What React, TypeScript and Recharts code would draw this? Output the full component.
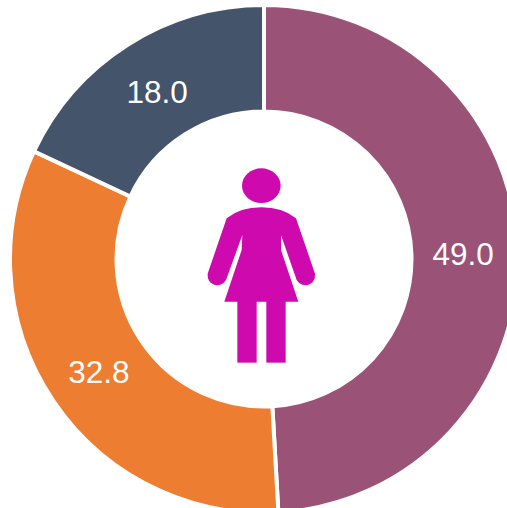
import { PieChart, Pie, Cell } from 'recharts';

const categories = ['A', 'B', 'C'];
const values = [49.0, 32.8, 18.0];
const colors = ['#9B5277', '#ED7D31', '#44546A'];

const data = categories.map((name, i) => ({ name, value: values[i] }));

const RAD = Math.PI / 180;

function renderLabel(props: any) {
  const { cx, cy, midAngle, innerRadius, outerRadius, value } = props;
  const r = (innerRadius + outerRadius) / 2 - 1.5;
  const x = cx + r * Math.cos(-midAngle * RAD);
  const y = cy + r * Math.sin(-midAngle * RAD) + 1;
  return (
    <text
      x={x}
      y={y}
      fill="#ffffff"
      fontSize={31.5}
      fontFamily="'Liberation Sans', Arial, sans-serif"
      textAnchor="middle"
      dominantBaseline="central"
    >
      {value.toFixed(1)}
    </text>
  );
}

// woman pictogram in the middle of the ring
function Figure() {
  return (
    <svg width={507} height={508} style={{ position: 'absolute', left: 0, top: 0, pointerEvents: 'none' }}>
      <g transform="translate(190 150) scale(0.3333)" fill="#CE09AE">
        <ellipse cx={214} cy={107} rx={58} ry={52} />
        <path d="M110 205 Q150 172 214 172 Q278 172 318 205 L372 362 A28 28 0 0 1 320 390 L273 255 L273 300 L325 455 L103 455 L155 300 L157 255 L108 390 A28 28 0 0 1 56 362 Z" />
        <rect x={142} y={450} width={58} height={188} />
        <rect x={229} y={450} width={58} height={188} />
      </g>
    </svg>
  );
}

export default function App() {
  return (
    <div style={{ position: 'absolute', left: 0, top: 0, width: 507, height: 508, overflow: 'hidden', background: '#fff' }}>
      <PieChart width={507} height={508} margin={{ top: 0, right: 0, bottom: 0, left: 0 }}>
        <Pie
          data={data}
          dataKey="value"
          cx={264}
          cy={259}
          innerRadius={147.5}
          outerRadius={254}
          startAngle={90}
          endAngle={-270}
          stroke="#ffffff"
          strokeWidth={4}
          label={renderLabel}
          labelLine={false}
          isAnimationActive={false}
        >
          {data.map((d, i) => (
            <Cell key={d.name} fill={colors[i]} />
          ))}
        </Pie>
      </PieChart>
      <Figure />
    </div>
  );
}
